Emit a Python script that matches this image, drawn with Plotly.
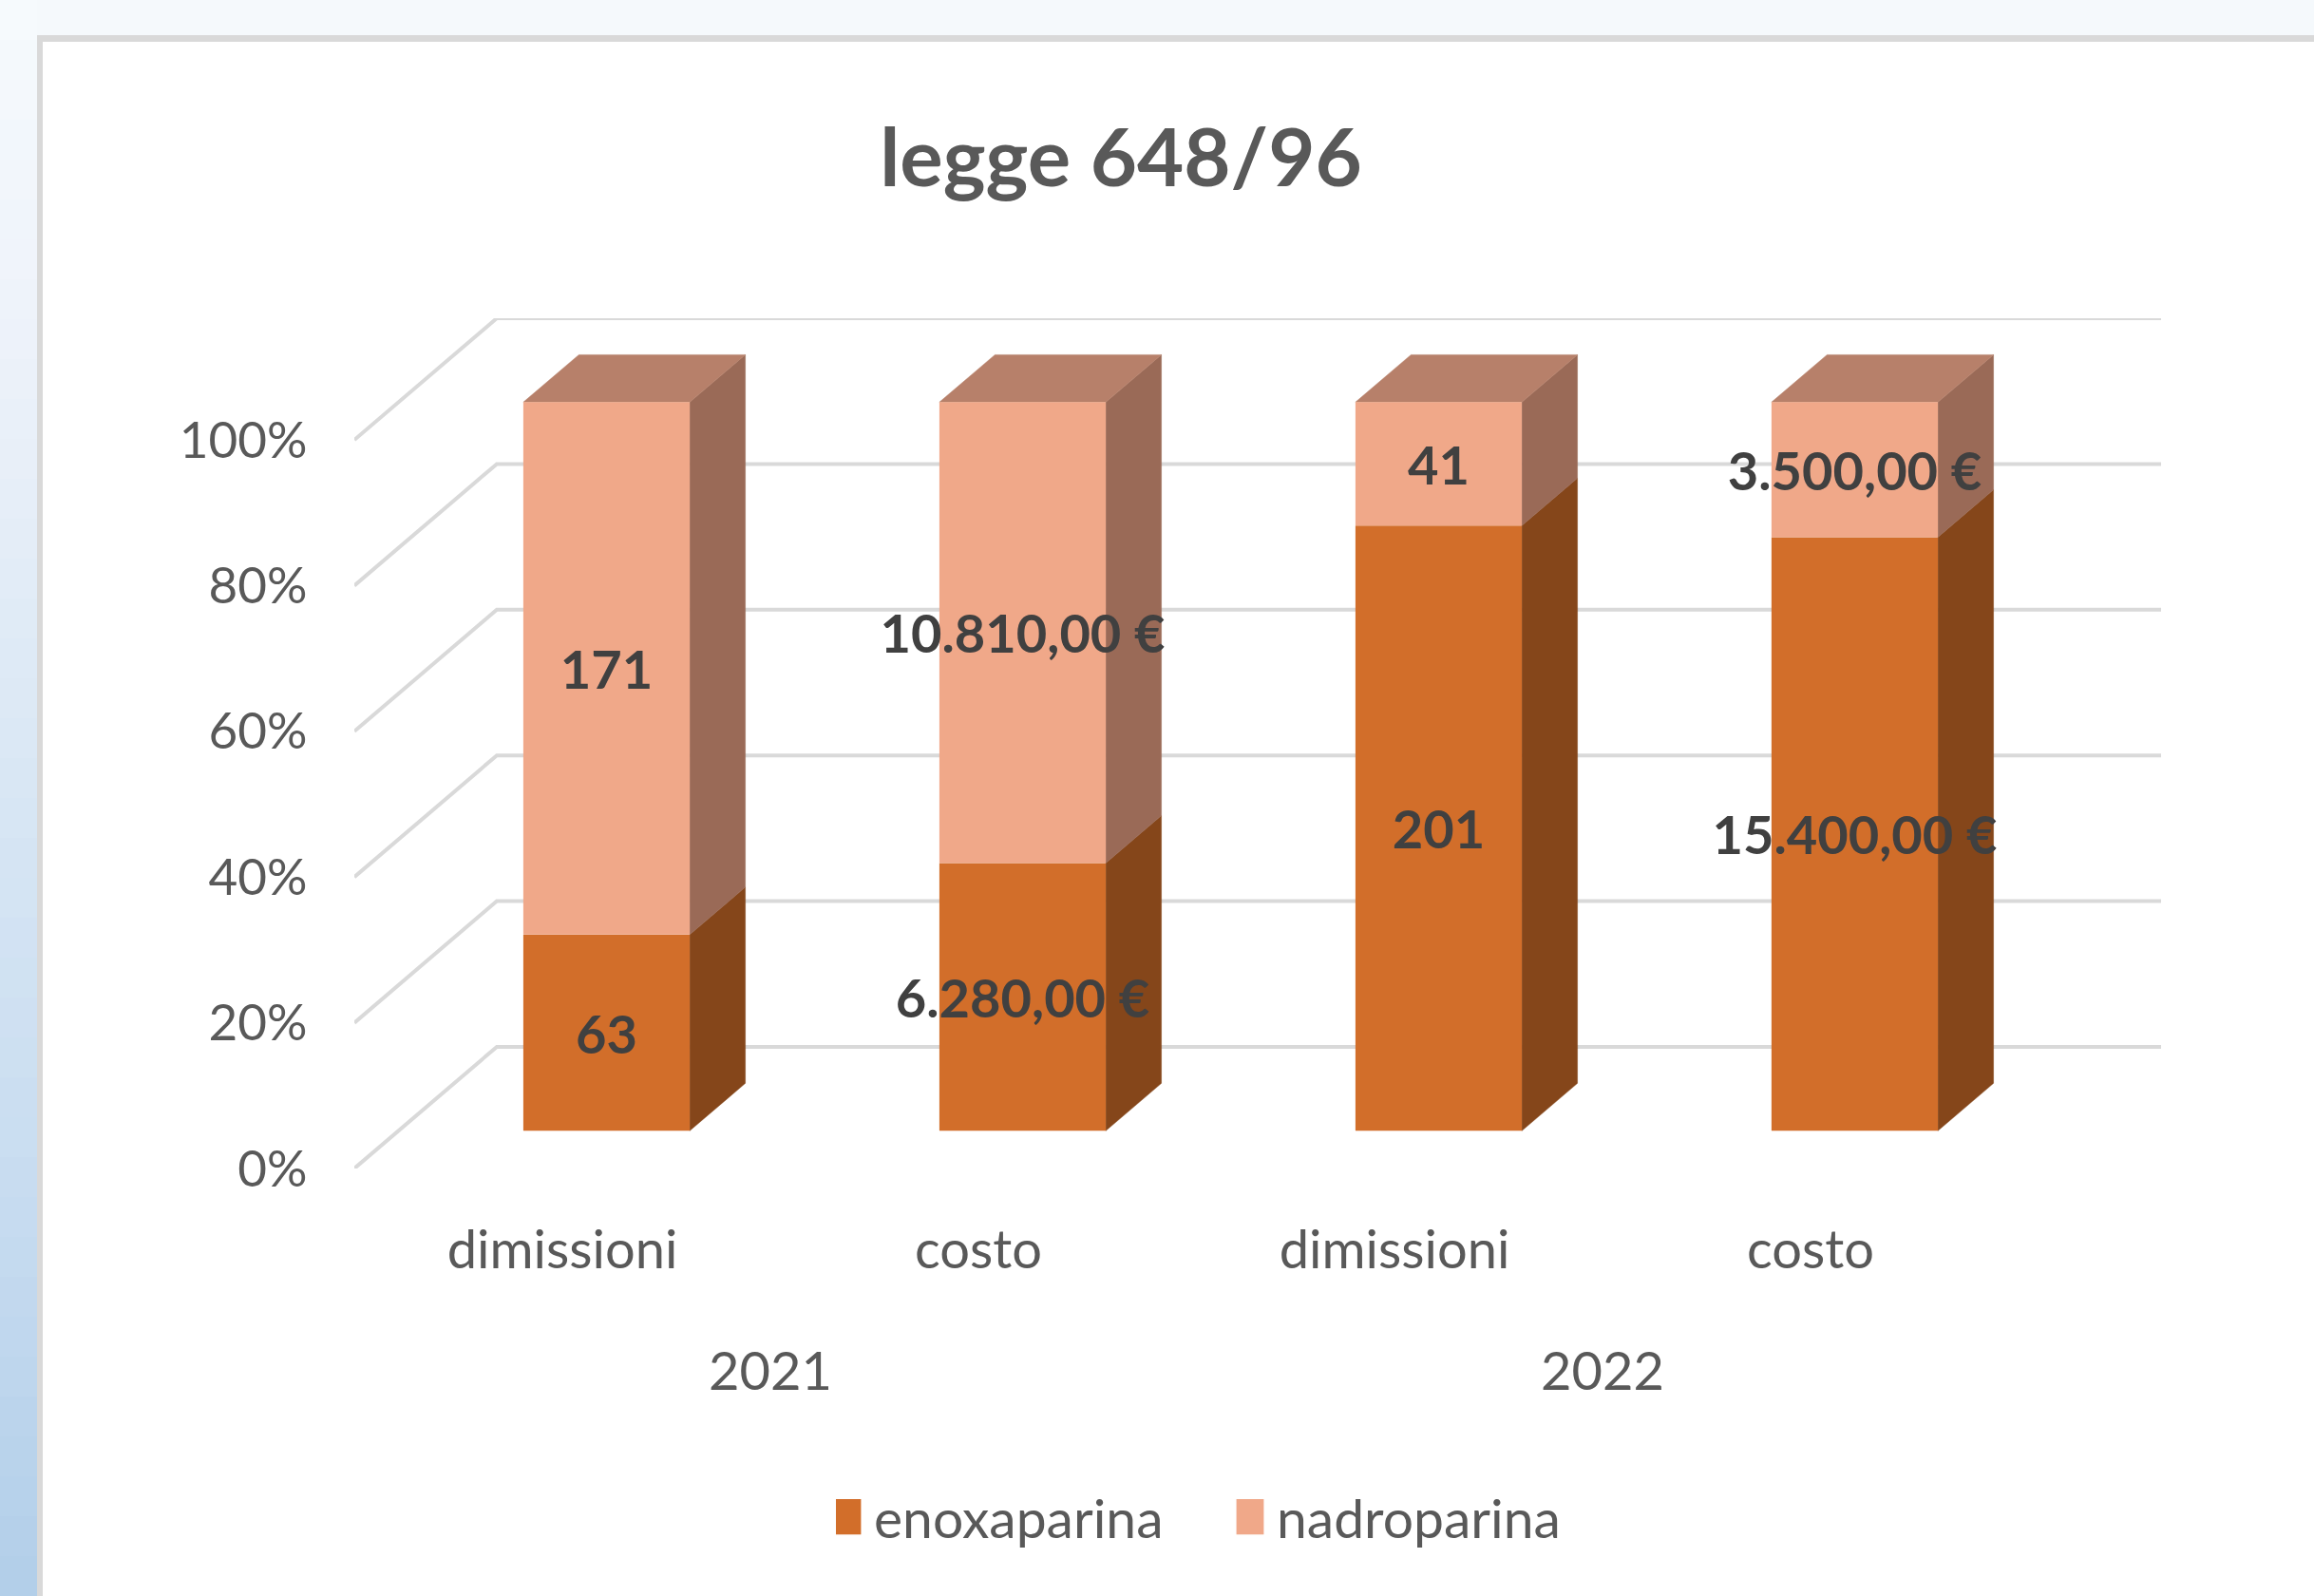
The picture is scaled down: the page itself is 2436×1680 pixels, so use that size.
import plotly.graph_objects as go

# ---------------- data ----------------
years = ["2021", "2021", "2022", "2022"]
categories = ["dimissioni", "costo", "dimissioni", "costo"]
enoxaparina = [63, 6280, 201, 15400]
nadroparina = [171, 10810, 41, 3500]
units = ["", "€", "", "€"]
series_names = ["enoxaparina", "nadroparina"]
y_ticks = [0, 20, 40, 60, 80, 100]
y_tick_labels = ["0%", "20%", "40%", "60%", "80%", "100%"]
title_text = "legge 648/96"

# ---------------- style / geometry ----------------
W, H = 2436, 1680
PLOT_L, PLOT_R, PLOT_T, PLOT_B = 373, 2275, 335, 1230   # pixel box of plot area
DEPTH_X, DEPTH_Y = 0.3425, 16.7     # depth of the 3D box in axis units
Z_FRONT, Z_BACK = 0.31, 0.70        # depth position of the bars
BAR_W = 0.40
FONT = "Lato, sans-serif"
C_ENOX, C_NADRO = "#D26E2A", "#F0A889"
C_ENOX_SIDE, C_NADRO_SIDE, C_NADRO_TOP = "#85461A", "#9A6A57", "#B7806A"
C_GRID = "#D9D9D9"
C_TICK = "#595959"
C_LABEL = "#404040"


def fmt(v, unit):
    if unit == "€":
        s = f"{v:,.2f}".replace(",", "X").replace(".", ",").replace("X", ".")
        return s + " €"
    return str(v)


n = len(categories)
pos = list(range(n))
tot = [e + d for e, d in zip(enoxaparina, nadroparina)]
pe = [e / t * 100 for e, t in zip(enoxaparina, tot)]
pn = [d / t * 100 for d, t in zip(nadroparina, tot)]
lab_e = [fmt(v, u) for v, u in zip(enoxaparina, units)]
lab_n = [fmt(v, u) for v, u in zip(nadroparina, units)]

x_range = [-0.5, n - 0.5 + DEPTH_X]
y_range = [0, 100 + DEPTH_Y]

fx0, fy0 = Z_FRONT * DEPTH_X, Z_FRONT * DEPTH_Y
ddx, ddy = (Z_BACK - Z_FRONT) * DEPTH_X, (Z_BACK - Z_FRONT) * DEPTH_Y

fig = go.Figure()

# back wall + side wall gridlines
gx, gy = [], []
for t in y_ticks:
    gx += [x_range[0], x_range[0] + DEPTH_X, x_range[1], None]
    gy += [t, t + DEPTH_Y, t + DEPTH_Y, None]
fig.add_trace(go.Scatter(x=gx, y=gy, mode="lines", line=dict(color=C_GRID, width=4),
                         hoverinfo="skip", showlegend=False, xaxis="x", yaxis="y"))


# 3D faces of the bars
def poly_trace(xs, ys, color):
    return go.Scatter(x=xs, y=ys, mode="lines", fill="toself", fillcolor=color,
                      line=dict(color=color, width=0.5), hoverinfo="skip",
                      showlegend=False, xaxis="x", yaxis="y")


sx_e, sy_e, sx_n, sy_n, tx, ty = [], [], [], [], [], []
for i in pos:
    xl = i + fx0 - BAR_W / 2
    xr = i + fx0 + BAR_W / 2
    b0, b1, b2 = fy0, fy0 + pe[i], fy0 + pe[i] + pn[i]
    sx_e += [xr, xr + ddx, xr + ddx, xr, xr, None]
    sy_e += [b0, b0 + ddy, b1 + ddy, b1, b0, None]
    sx_n += [xr, xr + ddx, xr + ddx, xr, xr, None]
    sy_n += [b1, b1 + ddy, b2 + ddy, b2, b1, None]
    tx += [xl, xr, xr + ddx, xl + ddx, xl, None]
    ty += [b2, b2, b2 + ddy, b2 + ddy, b2, None]
fig.add_trace(poly_trace(sx_e, sy_e, C_ENOX_SIDE))
fig.add_trace(poly_trace(sx_n, sy_n, C_NADRO_SIDE))
fig.add_trace(poly_trace(tx, ty, C_NADRO_TOP))

# front faces (bars)
label_font = dict(family=FONT, size=56, color=C_LABEL, weight="bold")
fig.add_trace(go.Bar(
    x=pos, y=pe, base=[fy0] * n, offset=fx0 - BAR_W / 2, width=BAR_W,
    name=series_names[0], marker=dict(color=C_ENOX, line=dict(width=0)),
    text=lab_e, textposition="inside", insidetextanchor="middle", constraintext="none",
    textangle=0, insidetextfont=label_font, xaxis="x2", yaxis="y2"))
fig.add_trace(go.Bar(
    x=pos, y=pn, base=[fy0 + v for v in pe], offset=fx0 - BAR_W / 2, width=BAR_W,
    name=series_names[1], marker=dict(color=C_NADRO, line=dict(width=0)),
    text=lab_n, textposition="inside", insidetextanchor="middle", constraintext="none",
    textangle=0, insidetextfont=label_font, xaxis="x2", yaxis="y2"))

# ---------------- background decoration ----------------
pw, ph = PLOT_R - PLOT_L, PLOT_B - PLOT_T


def px(xp):
    return (xp - PLOT_L) / pw


def py(yp):
    return (PLOT_B - yp) / ph


shapes = []
grad = [(0.0, (246, 250, 253)), (0.2, (238, 243, 250)), (0.5, (216, 230, 244)),
        (0.75, (199, 220, 240)), (1.0, (178, 206, 233))]
NB = 40
for k in range(NB):
    f = (k + 0.5) / NB
    for j in range(len(grad) - 1):
        if grad[j][0] <= f <= grad[j + 1][0]:
            a = (f - grad[j][0]) / (grad[j + 1][0] - grad[j][0])
            c = [round(grad[j][1][m] + a * (grad[j + 1][1][m] - grad[j][1][m])) for m in range(3)]
            break
    y0p, y1p = H * k / NB, H * (k + 1) / NB + 1
    shapes.append(dict(type="rect", xref="paper", yref="paper", x0=px(0), x1=px(39),
                       y0=py(y1p), y1=py(y0p), fillcolor=f"rgb({c[0]},{c[1]},{c[2]})",
                       line=dict(width=0), layer="below"))
shapes.append(dict(type="rect", xref="paper", yref="paper", x0=px(39), x1=px(W), y0=py(37), y1=py(0),
                   fillcolor="#F5F9FC", line=dict(width=0), layer="below"))
shapes.append(dict(type="rect", xref="paper", yref="paper", x0=px(39), x1=px(W), y0=py(44), y1=py(37),
                   fillcolor="#D9D9D9", line=dict(width=0), layer="below"))
shapes.append(dict(type="rect", xref="paper", yref="paper", x0=px(39), x1=px(45), y0=py(H), y1=py(37),
                   fillcolor="#D9D9D9", line=dict(width=0), layer="below"))

# year (group) labels under the category labels
annotations = []
for yr in dict.fromkeys(years):
    idx = [i for i, v in enumerate(years) if v == yr]
    annotations.append(dict(text=yr, x=sum(idx) / len(idx), xref="x2", y=py(1441), yref="paper",
                            xanchor="center", yanchor="middle", showarrow=False,
                            font=dict(family=FONT, size=56, color=C_TICK)))

fig.update_layout(
    width=W, height=H,
    margin=dict(l=PLOT_L, r=W - PLOT_R, t=PLOT_T, b=H - PLOT_B, autoexpand=False),
    paper_bgcolor="white", plot_bgcolor="rgba(0,0,0,0)",
    barmode="overlay",
    shapes=shapes,
    annotations=annotations,
    title=dict(text=title_text, x=1180 / W, xanchor="center", xref="container",
               y=1 - 136 / H, yanchor="top", yref="container",
               font=dict(family=FONT, size=85, color=C_TICK, weight="bold")),
    xaxis=dict(range=x_range, visible=False),
    xaxis2=dict(overlaying="x", range=x_range, tickvals=pos, ticktext=categories,
                showgrid=False, zeroline=False, showline=False, ticks="outside", ticklen=37,
                tickcolor="rgba(0,0,0,0)", tickfont=dict(family=FONT, size=56, color=C_TICK)),
    yaxis=dict(range=y_range, showgrid=False, zeroline=False, showline=False,
               tickvals=y_ticks, ticktext=y_tick_labels, ticks="outside", ticklen=38,
               tickcolor="rgba(0,0,0,0)", tickfont=dict(family=FONT, size=53, color=C_TICK)),
    yaxis2=dict(overlaying="y", range=y_range, visible=False),
    legend=dict(orientation="h", x=0.4837 + 11 / pw, xanchor="center", y=py(1597), yanchor="middle",
                font=dict(family=FONT, size=57, color=C_TICK), bgcolor="rgba(0,0,0,0)",
                traceorder="normal", entrywidth=379, entrywidthmode="pixels"),
    showlegend=True,
)

# page without body margin; enlarge the legend colour squares to the original size
post = """
document.body.style.margin = '0';
var gd = document.getElementById('{plot_id}');
gd.querySelectorAll('.legendpoints path').forEach(function(p){
  p.setAttribute('transform', 'translate(12,0) scale(2.4,3.1)');
});
"""
fig.write_html("out.html", post_script=post, config={"displayModeBar": False})
